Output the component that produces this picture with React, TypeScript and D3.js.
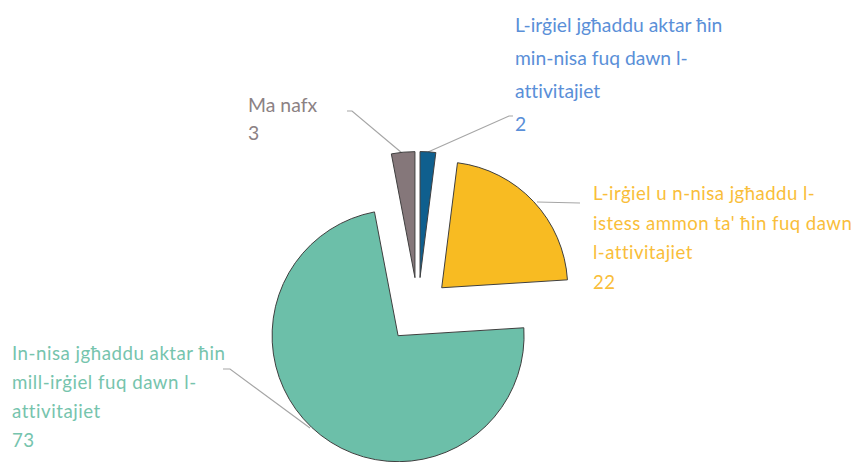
import React from "react";
import * as d3 from "d3";

const categories = [
  "L-irġiel jgħaddu aktar ħin min-nisa fuq dawn l-attivitajiet",
  "L-irġiel u n-nisa jgħaddu l-istess ammon ta' ħin fuq dawn l-attivitajiet",
  "In-nisa jgħaddu aktar ħin mill-irġiel fuq dawn l-attivitajiet",
  "Ma nafx",
];
const values = [2, 22, 73, 3];
const labelLines = [
  ["L-irġiel jgħaddu aktar ħin", "min-nisa fuq dawn l-", "attivitajiet", "2"],
  ["L-irġiel u n-nisa jgħaddu l-", "istess ammon ta' ħin fuq dawn", "l-attivitajiet", "22"],
  ["In-nisa jgħaddu aktar ħin", "mill-irġiel fuq dawn l-", "attivitajiet", "73"],
  ["Ma nafx", "3"],
];
const sliceColors = ["#0F5F8E", "#F8BB22", "#6CBFA9", "#85777A"];
const textColors = ["#5A8FD8", "#F9BE3A", "#76C4AD", "#8C8284"];

// label layout (anchor x, first baseline y, line spacing, font size, letter spacing)
const labelPos = [
  { x: 515, y: 32, dy: 33, fs: 19.3, ls: 0 },
  { x: 593, y: 200, dy: 29.5, fs: 18.6, ls: 0.45 },
  { x: 12, y: 360, dy: 29, fs: 18.7, ls: 0.5 },
  { x: 248, y: 112, dy: 28, fs: 19.4, ls: 0 },
];
// leader line points
const leaders = [
  [[428, 152], [509, 116], [513, 116]],
  [[537, 202], [580, 203]],
  [[402, 153], [352, 111], [347, 111]],
  [[310, 428], [230, 369], [223, 369]],
];

export default function App() {
  const cx = 418;
  const cy = 310;
  const r = 126;
  const explode = 32.5;
  const pie = d3.pie<number>().sort(null).value((d) => d).startAngle(0).endAngle(2 * Math.PI);
  const arcs = pie(values);
  const arcGen = d3.arc<d3.PieArcDatum<number>>().innerRadius(0).outerRadius(r);
  const lineGen = d3.line();
  return (
    <svg width={854} height={462} style={{ position: "absolute", left: 0, top: 0, background: "#fff", fontVariantLigatures: "none" }}
      fontFamily="Lato, 'Open Sans', sans-serif">
      <rect width={854} height={462} fill="#fff" />
      {leaders.map((pts, i) => (
        <path key={"l" + i} d={lineGen(pts as [number, number][]) || ""} fill="none" stroke="#A6A6A6" strokeWidth={1.2} />
      ))}
      {arcs.map((a, i) => {
        const mid = (a.startAngle + a.endAngle) / 2;
        const tx = cx + explode * Math.sin(mid);
        const ty = cy - explode * Math.cos(mid);
        return (
          <path key={categories[i]} d={arcGen(a) || ""} transform={`translate(${tx},${ty})`}
            fill={sliceColors[i]} stroke="#3F3F3F" strokeWidth={1} strokeLinejoin="round" />
        );
      })}
      {labelLines.map((lines, i) => (
        <text key={"t" + i} x={labelPos[i].x} y={labelPos[i].y} fill={textColors[i]} fontSize={labelPos[i].fs}
          letterSpacing={labelPos[i].ls}>
          {lines.map((ln, j) => (
            <tspan key={j} x={labelPos[i].x} y={labelPos[i].y + j * labelPos[i].dy}>{ln}</tspan>
          ))}
        </text>
      ))}
    </svg>
  );
}
